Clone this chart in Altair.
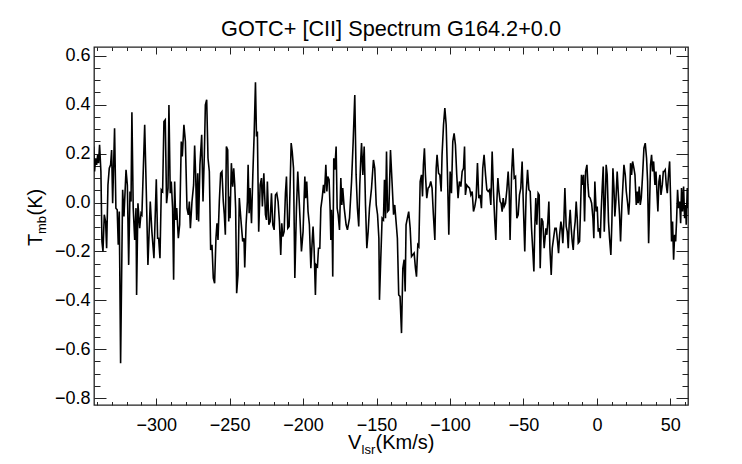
import altair as alt
import pandas as pd

TITLE = "GOTC+ [CII] Spectrum G164.2+0.0"

# (velocity km/s, Tmb K), left to right
SEG1 = [(-342.6,0.229),(-341.9,0.127),(-341.2,0.181),(-340.5,0.154),(-339.8,0.195),(-339.2,0.161),(-338.5,0.236),(-337.6,0.127),(-336.9,-0.159),(-336.2,-0.200),(-335.3,-0.050),(-334.4,-0.078),(-333.7,-0.187),(-332.8,0.072),(-331.9,0.140),(-331.0,0.154),(-330.3,0.215),(-329.6,-0.003),(-328.3,0.304),(-327.4,-0.023),(-326.5,-0.030),(-325.8,-0.173),(-325.1,-0.037),(-324.2,-0.657),(-322.8,0.052),(-321.9,-0.057),(-320.5,0.134),(-319.6,0.072),(-318.7,-0.255),(-317.8,0.045),(-317.1,0.004),(-316.5,0.369),(-315.6,-0.023),(-314.6,-0.153),(-313.7,-0.023),(-313.3,-0.378),(-312.4,-0.003),(-311.2,-0.105),(-310.3,-0.044),(-309.7,-0.050),(-307.8,0.318),(-306.7,0.045),(-305.6,-0.255),(-304.0,0.004),(-302.9,-0.119),(-301.5,-0.228),(-299.9,0.095),(-299.0,-0.146),(-298.3,-0.146),(-297.4,-0.228),(-296.5,0.052),(-295.6,0.045),(-294.7,0.331),(-293.8,0.338),(-292.9,-0.003),(-291.9,0.059),(-291.3,0.399),(-290.4,0.038),(-289.7,0.086),(-288.8,-0.023),(-288.1,-0.316),(-287.4,0.086),(-286.7,-0.071),(-286.0,-0.023),(-284.9,-0.146),(-284.0,-0.091),(-282.9,0.249),(-282.2,0.188),(-281.1,0.318),(-280.1,0.249),(-279.0,-0.023),(-278.1,-0.050),(-277.4,0.004),(-276.7,-0.105),(-275.6,0.004),(-274.5,0.072),(-273.8,0.233),(-273.1,0.113),(-272.4,-0.071),(-271.7,0.120),(-271.1,-0.078),(-270.2,0.154),(-269.0,0.277),(-268.1,0.004),(-267.2,0.195),(-266.5,0.399),(-265.6,0.420),(-264.7,0.181),(-263.8,0.127),(-262.9,-0.194),(-262.0,-0.173),(-261.1,-0.309),(-260.2,-0.330),(-259.3,-0.146),(-258.6,-0.085),(-257.9,-0.153),(-257.0,0.004),(-256.1,0.120),(-255.2,0.127),(-254.3,0.004),(-253.6,-0.050),(-252.9,-0.132),(-252.2,0.229),(-251.3,0.215),(-250.6,-0.078),(-250.2,0.025),(-249.7,-0.064),(-248.8,0.161),(-247.9,0.065),(-247.2,0.140),(-246.5,0.072),(-245.9,-0.023),(-245.2,-0.371),(-244.3,-0.296),(-243.4,0.018),(-242.2,-0.078),(-241.1,-0.159),(-240.2,-0.146)]

SEG2 = [(-239.7,-0.266),(-238.8,-0.091),(-237.9,0.004),(-237.4,0.154),(-236.7,-0.044),(-236.1,0.059),(-235.1,-0.085),(-234.2,0.113),(-233.3,0.277),(-232.4,0.492),(-231.7,0.270),(-231.1,0.290),(-230.2,-0.119),(-229.2,0.072),(-228.3,0.100),(-227.7,-0.016),(-226.7,0.120),(-225.6,-0.050),(-224.9,-0.071),(-224.3,0.086),(-223.3,-0.091),(-222.4,-0.078),(-221.5,0.038),(-220.6,-0.091),(-219.7,-0.112),(-218.8,0.031),(-217.9,0.038),(-217.0,0.004),(-216.1,-0.078),(-215.2,-0.214),(-214.5,-0.085),(-213.8,-0.139),(-212.9,-0.119),(-212.0,0.038),(-211.3,0.106),(-210.4,-0.105),(-209.5,-0.098),(-208.1,0.243),(-207.4,0.209),(-206.5,0.140),(-205.6,-0.309),(-204.5,-0.023),(-203.6,0.127),(-202.5,-0.010),(-201.1,-0.200),(-200.0,-0.119),(-198.8,0.106),(-198.2,0.018),(-197.5,0.086),(-196.6,-0.037),(-195.7,-0.091),(-194.7,-0.269),(-193.8,-0.159),(-193.2,-0.098),(-192.5,-0.187),(-191.6,-0.378),(-191.1,-0.255),(-190.2,-0.262),(-189.5,-0.187),(-188.6,-0.187),(-187.9,-0.023),(-187.0,0.018),(-186.1,0.072),(-185.4,0.038),(-184.5,0.154),(-183.8,0.045),(-183.2,0.106),(-182.3,0.093),(-181.6,-0.023),(-181.1,-0.153),(-180.7,-0.030),(-180.2,-0.112),(-179.8,-0.303),(-179.1,0.181),(-178.4,0.134),(-177.5,0.229),(-176.8,-0.023),(-176.1,-0.050),(-175.2,-0.112),(-174.3,0.100),(-173.6,-0.010),(-173.0,0.059),(-172.0,-0.023),(-170.7,-0.091),(-169.8,-0.112),(-168.4,-0.064),(-167.0,0.086),(-165.9,0.249),(-164.8,0.440),(-163.9,0.113),(-163.0,-0.023),(-162.1,-0.098),(-161.4,0.072),(-160.7,0.181),(-160.2,0.243),(-159.3,0.113),(-158.4,0.229),(-157.5,-0.010),(-156.6,-0.187),(-155.7,-0.119),(-154.8,-0.023),(-153.4,0.059),(-152.1,0.174),(-151.2,0.140),(-150.2,-0.010),(-149.3,-0.050),(-148.4,-0.146),(-148.0,-0.398),(-147.1,-0.228),(-146.2,-0.064),(-145.3,-0.071),(-144.6,0.093),(-143.9,-0.064),(-143.2,0.209),(-142.5,-0.037),(-141.6,-0.030),(-140.5,0.215),(-139.4,0.079),(-138.4,-0.050)]

SEG3 = [(-137.6,-0.010),(-136.7,-0.078),(-135.8,-0.146),(-134.9,-0.378),(-134.0,-0.384),(-133.0,-0.534),(-132.1,-0.269),(-131.2,-0.234),(-130.5,-0.364),(-129.9,-0.091),(-129.0,-0.064),(-128.1,-0.037),(-127.1,-0.105),(-126.2,-0.221),(-125.3,-0.214),(-124.4,-0.207),(-123.5,-0.269),(-122.8,-0.303),(-121.9,-0.173),(-121.2,-0.180),(-120.3,0.086),(-119.4,0.113),(-118.7,0.025),(-118.1,0.154),(-117.4,0.222),(-116.7,0.113),(-115.8,0.018),(-114.9,0.059),(-114.0,0.065),(-113.1,0.086),(-112.2,0.059),(-111.3,-0.050),(-110.3,-0.153),(-109.4,0.140),(-108.8,0.195),(-107.8,0.120),(-106.9,0.113),(-106.0,0.045),(-105.4,0.195),(-104.4,0.318),(-103.5,0.386),(-102.6,0.318),(-101.7,0.113),(-100.8,-0.132),(-99.9,0.127),(-99.0,0.038),(-98.1,0.249),(-97.2,0.283),(-96.3,0.236),(-95.4,0.113),(-94.5,0.018),(-93.6,0.086),(-92.6,0.065),(-91.7,0.127),(-90.8,0.140),(-90.1,0.229),(-89.5,0.031),(-88.6,0.072),(-87.7,0.065),(-86.7,0.059),(-85.8,0.031),(-84.9,0.045),(-84.0,-0.037),(-83.1,-0.016),(-82.2,0.018),(-81.3,0.161),(-80.4,0.018),(-79.5,0.031),(-78.6,-0.023),(-77.7,0.140),(-76.8,0.195),(-75.8,0.113),(-74.9,0.052),(-74.0,0.045),(-73.1,0.052),(-72.2,-0.010),(-71.3,0.209),(-70.4,0.045),(-69.5,-0.078),(-68.8,-0.153),(-68.1,0.004),(-67.4,0.100),(-66.8,0.052),(-65.9,0.004),(-65.2,-0.003),(-64.5,-0.037),(-63.8,0.018),(-63.1,-0.016),(-62.2,-0.003),(-61.3,0.052),(-60.4,0.127),(-59.7,0.045),(-59.1,-0.153),(-58.1,0.113),(-57.2,0.222),(-56.3,0.100),(-55.4,0.106),(-54.5,-0.064),(-53.6,-0.050),(-52.7,0.031),(-51.8,0.059),(-50.9,0.168),(-50.0,-0.023),(-49.1,-0.200),(-48.2,0.031),(-47.2,0.134),(-46.3,0.052),(-45.4,0.045),(-44.5,-0.105),(-43.6,-0.200),(-42.9,-0.282),(-42.3,-0.105),(-41.6,0.018),(-40.9,-0.091),(-40.0,0.038),(-39.3,0.031),(-38.6,-0.269),(-37.7,-0.064),(-36.8,-0.078),(-35.9,-0.187)]

SEG4 = [(-34.7,-0.105),(-34.1,-0.132),(-33.4,-0.078),(-32.7,0.004),(-32.0,-0.187),(-31.1,-0.296),(-30.4,-0.187),(-29.5,-0.146),(-28.6,-0.105),(-27.7,-0.105),(-26.8,-0.159),(-26.1,-0.207),(-25.4,-0.132),(-24.5,-0.078),(-23.9,-0.105),(-23.2,-0.166),(-22.5,-0.078),(-21.8,0.059),(-20.9,-0.098),(-20.2,-0.119),(-19.5,-0.187),(-18.9,-0.091),(-18.2,-0.030),(-17.5,-0.105),(-16.8,-0.159),(-16.1,-0.194),(-15.5,-0.119),(-14.8,-0.078),(-14.1,0.004),(-13.4,-0.064),(-12.7,-0.166),(-11.8,-0.159),(-11.1,-0.016),(-10.5,0.113),(-9.8,0.072),(-9.1,0.113),(-8.4,-0.078),(-7.7,0.127),(-6.8,0.154),(-6.1,0.072),(-5.5,0.025),(-4.6,0.018),(-3.6,-0.003),(-2.7,-0.064),(-2.1,-0.146),(-1.4,0.086),(-0.5,-0.037),(0.2,-0.016),(0.9,-0.119),(1.6,-0.105),(2.3,-0.146),(2.9,-0.037),(3.6,0.059),(4.3,0.147),(5.0,-0.119),(5.7,0.004),(6.3,0.154),(7.0,0.113),(7.9,-0.078),(8.6,-0.146),(9.5,-0.214),(10.2,-0.078),(10.9,0.140),(11.6,0.059),(12.2,-0.057),(12.9,0.004),(13.8,0.127),(14.5,0.045),(15.4,-0.050),(16.1,-0.159),(17.0,-0.010),(17.7,0.072),(18.4,0.154),(19.3,0.113),(20.0,0.045),(20.9,-0.003),(21.6,-0.050),(22.2,0.004),(22.9,0.161),(23.6,0.113),(24.3,0.168),(25.2,0.140),(25.9,0.113),(26.8,-0.010),(27.5,0.045),(28.1,-0.003),(28.8,0.065),(29.5,-0.010),(30.2,0.018),(31.1,0.113),(32.0,0.222),(32.9,0.243),(33.8,0.181),(34.5,0.086),(35.2,-0.166),(35.9,0.004),(36.5,0.154),(37.2,0.195),(37.9,0.127),(38.6,0.168),(39.5,0.072),(40.2,0.127),(40.9,0.038),(41.5,-0.037),(42.2,0.086),(42.9,0.113),(43.6,0.031),(44.5,0.072),(45.2,0.127),(45.8,0.127),(46.5,0.134),(47.2,0.072),(47.9,0.038),(48.8,0.120),(49.5,0.168),(50.2,0.004),(50.8,-0.159),(51.5,-0.078),(52.2,-0.234),(52.9,-0.132),(53.6,-0.159),(54.2,-0.078),(54.9,0.052),(55.6,-0.023),(56.3,0.004),(57.0,-0.085),(57.6,0.059),(58.3,-0.037),(59.0,0.065),(59.7,-0.064),(60.4,-0.010),(60.8,-0.091),(61.5,0.059),(62.0,-0.023)]

X_MAJOR = [-300, -250, -200, -150, -100, -50, 0, 50]
X_MINOR = [-340, -330, -320, -310, -290, -280, -270, -260, -240, -230, -220, -210,
           -190, -180, -170, -160, -140, -130, -120, -110, -90, -80, -70, -60,
           -40, -30, -20, -10, 10, 20, 30, 40, 60]
Y_MAJOR = [-0.8, -0.6, -0.4, -0.2, 0.0, 0.2, 0.4, 0.6]
Y_MINOR = [-0.75, -0.7, -0.65, -0.55, -0.5, -0.45, -0.35, -0.3, -0.25, -0.15, -0.1, -0.05,
           0.05, 0.1, 0.15, 0.25, 0.3, 0.35, 0.45, 0.5, 0.55]
X_DOMAIN = [-342.3, 62.0]
Y_DOMAIN = [-0.828, 0.636]

W, H = 594, 358
FONT = "Liberation Sans"
INK = "#000000"
FRAME = "#222222"

df = pd.DataFrame(SEG1 + SEG2 + SEG3 + SEG4, columns=["v", "t"])
xs = alt.Scale(domain=X_DOMAIN, nice=False, zero=False)
ys = alt.Scale(domain=Y_DOMAIN, nice=False, zero=False)

line = alt.Chart(df).mark_line(color=INK, strokeWidth=1.6, clip=True).encode(
    x=alt.X("v:Q", scale=xs, axis=alt.Axis(
        orient="bottom", values=X_MAJOR, format="d", ticks=False, tickSize=0,
        domain=False, grid=False, labelFont=FONT, labelFontSize=18, labelColor=INK,
        labelPadding=11, labelFlush=False, labelOverlap=False, title=None)),
    y=alt.Y("t:Q", scale=ys, axis=alt.Axis(
        orient="left", values=Y_MAJOR, format=".1f", ticks=False, tickSize=0,
        domain=False, grid=False, labelFont=FONT, labelFontSize=18, labelColor=INK,
        labelPadding=4, labelFlush=False, labelOverlap=False, title=None)),
)


def tick_layer(xorient, yorient, xvals, yvals, xsize, ysize):
    return alt.Chart(df).mark_line(strokeOpacity=0).encode(
        x=alt.X("v:Q", scale=xs, axis=alt.Axis(
            orient=xorient, offset=-H, values=xvals, labels=False, domain=False,
            grid=False, ticks=True, tickSize=xsize, tickColor=FRAME, tickWidth=1,
            title=None)),
        y=alt.Y("t:Q", scale=ys, axis=alt.Axis(
            orient=yorient, offset=-W, values=yvals, labels=False, domain=False,
            grid=False, ticks=True, tickSize=ysize, tickColor=FRAME, tickWidth=1,
            title=None)),
    )


ticks = [
    tick_layer("top", "right", X_MAJOR, Y_MAJOR, 7, 12),
    tick_layer("top", "right", X_MINOR, Y_MINOR, 3.5, 6),
    tick_layer("bottom", "left", X_MAJOR, Y_MAJOR, 7, 12),
    tick_layer("bottom", "left", X_MINOR, Y_MINOR, 3.5, 6),
]

one = pd.DataFrame({"k": [0]})


def label(text, x, y, size, angle=None, align="left"):
    kw = dict(text=text, font=FONT, fontSize=size, color=INK, align=align,
              baseline="alphabetic")
    if angle is not None:
        kw["angle"] = angle
    return alt.Chart(one).mark_text(**kw).encode(x=alt.value(x), y=alt.value(y))


texts = [
    label(TITLE, W / 2, -11, 21.7, align="center"),
    # x title: V_lsr(Km/s)
    label("V", 254, 402, 20),
    label("lsr", 267.5, 406.5, 13),
    label("(Km/s)", 281.5, 402, 20),
    # y title: T_mb(K)
    label("T", -52, 199, 20, angle=270),
    label("mb", -48, 187, 13, angle=270),
    label("(K)", -52, 168.5, 20, angle=270),
]

chart = alt.layer(line, *ticks, *texts).resolve_axis(
    x="independent", y="independent"
).properties(
    width=W, height=H,
    autosize=alt.AutoSizeParams(type="none"),
    padding={"left": 86, "top": 39, "right": 40, "bottom": 53},
).configure_view(stroke=FRAME, strokeWidth=1.3)

chart.save("out.html", embed_options={"renderer": "svg", "actions": False})
